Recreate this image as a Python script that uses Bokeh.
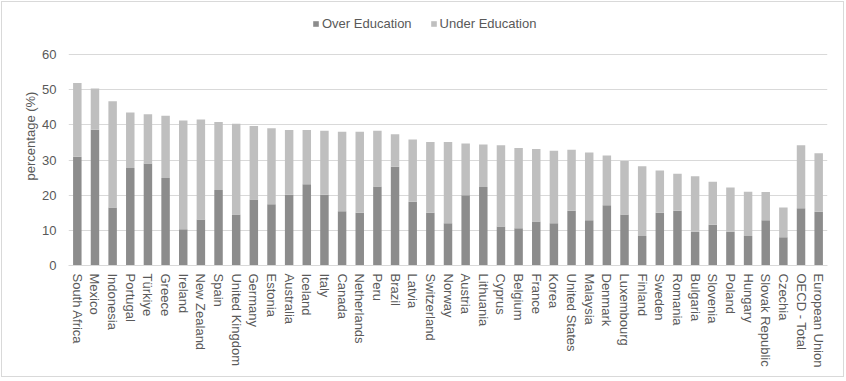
from bokeh.plotting import figure
from bokeh.models import ColumnDataSource, FactorRange, Legend, LegendItem, Range1d
from bokeh.embed import file_html
from bokeh.resources import INLINE
import math

countries = ["South Africa", "Mexico", "Indonesia", "Portugal", "Türkiye", "Greece", "Ireland",
             "New Zealand", "Spain", "United Kingdom", "Germany", "Estonia", "Australia", "Iceland",
             "Italy", "Canada", "Netherlands", "Peru", "Brazil", "Latvia", "Switzerland", "Norway",
             "Austria", "Lithuania", "Cyprus", "Belgium", "France", "Korea", "United States",
             "Malaysia", "Denmark", "Luxembourg", "Finland", "Sweden", "Romania", "Bulgaria",
             "Slovenia", "Poland", "Hungary", "Slovak Republic", "Czechia", "OECD - Total",
             "European Union"]

over_education = [30.9, 38.6, 16.5, 27.7, 29.0, 24.9, 10.3, 13.1, 21.5, 14.5, 18.8, 17.4, 20.1, 23.1,
                  20.1, 15.4, 15.0, 22.5, 28.1, 18.1, 15.0, 12.0, 20.0, 22.3, 11.1, 10.6, 12.5, 12.0,
                  15.6, 12.9, 17.1, 14.5, 8.4, 15.0, 15.6, 9.6, 11.6, 9.6, 8.4, 12.9, 8.0, 16.3, 15.3]

total = [51.9, 50.3, 46.7, 43.5, 43.0, 42.6, 41.2, 41.5, 40.8, 40.3, 39.7, 39.0, 38.5, 38.5,
         38.3, 38.0, 38.0, 38.3, 37.3, 35.8, 35.1, 35.1, 34.7, 34.4, 34.2, 33.4, 33.1, 32.6,
         32.9, 32.1, 31.3, 29.7, 28.2, 27.0, 26.1, 25.4, 23.8, 22.2, 21.0, 20.9, 16.5, 34.2, 31.9]

under_education = [round(t - o, 1) for t, o in zip(total, over_education)]

series_names = ["Over Education", "Under Education"]
y_ticks = [0, 10, 20, 30, 40, 50, 60]

source = ColumnDataSource(dict(country=countries, over=over_education, under=under_education))

TEXT = "#595959"
FONT = "Liberation Sans"

# frame spans 259 px; 60 units occupy 211 px, the rest holds the legend
p = figure(x_range=FactorRange(*countries), y_range=Range1d(0, 73.65), width=843, height=376,
           output_backend="svg", toolbar_location=None,
           min_border_left=66, min_border_right=18, min_border_top=4, min_border_bottom=113)
p.styles = {"margin": "1px", "border": "1px solid #d9d9d9"}

r = p.vbar_stack(["over", "under"], x="country", width=0.48, source=source,
                 color=["#8c8c8c", "#bfbfbf"], line_color=None)

p.outline_line_color = None
p.xgrid.grid_line_color = None
p.ygrid.grid_line_color = "#d9d9d9"
p.ygrid.grid_line_width = 1

p.yaxis.ticker = y_ticks
p.yaxis.axis_line_color = None
p.yaxis.major_tick_line_color = None
p.yaxis.minor_tick_line_color = None
p.yaxis.major_tick_out = 0
p.yaxis.major_tick_in = 0
p.yaxis.major_label_text_font = FONT
p.yaxis.major_label_text_font_size = "13px"
p.yaxis.major_label_text_color = TEXT
p.yaxis.major_label_standoff = 12
p.yaxis.axis_label = "percentage (%)"
p.yaxis.axis_label_text_font = FONT
p.yaxis.axis_label_text_font_size = "13px"
p.yaxis.axis_label_text_font_style = "normal"
p.yaxis.axis_label_text_color = TEXT
p.yaxis.axis_label_standoff = 1

p.xaxis.axis_line_color = "#d9d9d9"
p.xaxis.major_tick_line_color = None
p.xaxis.minor_tick_line_color = None
p.xaxis.major_tick_out = 0
p.xaxis.major_tick_in = 0
p.xaxis.major_label_orientation = -math.pi / 2
p.xaxis.major_label_text_font = FONT
p.xaxis.major_label_text_font_size = "13px"
p.xaxis.major_label_text_color = TEXT
p.xaxis.major_label_standoff = 8

legend = Legend(items=[LegendItem(label=series_names[0], renderers=[r[0]]),
                       LegendItem(label=series_names[1], renderers=[r[1]])],
                orientation="horizontal", location=(244, 234),
                label_text_font=FONT, label_text_font_size="13px", label_text_color=TEXT,
                glyph_width=7, glyph_height=7, label_standoff=3, spacing=18,
                padding=0, margin=0, border_line_color=None, background_fill_alpha=0)
p.add_layout(legend, "center")

open("out.html", "w").write(file_html(p, INLINE))
